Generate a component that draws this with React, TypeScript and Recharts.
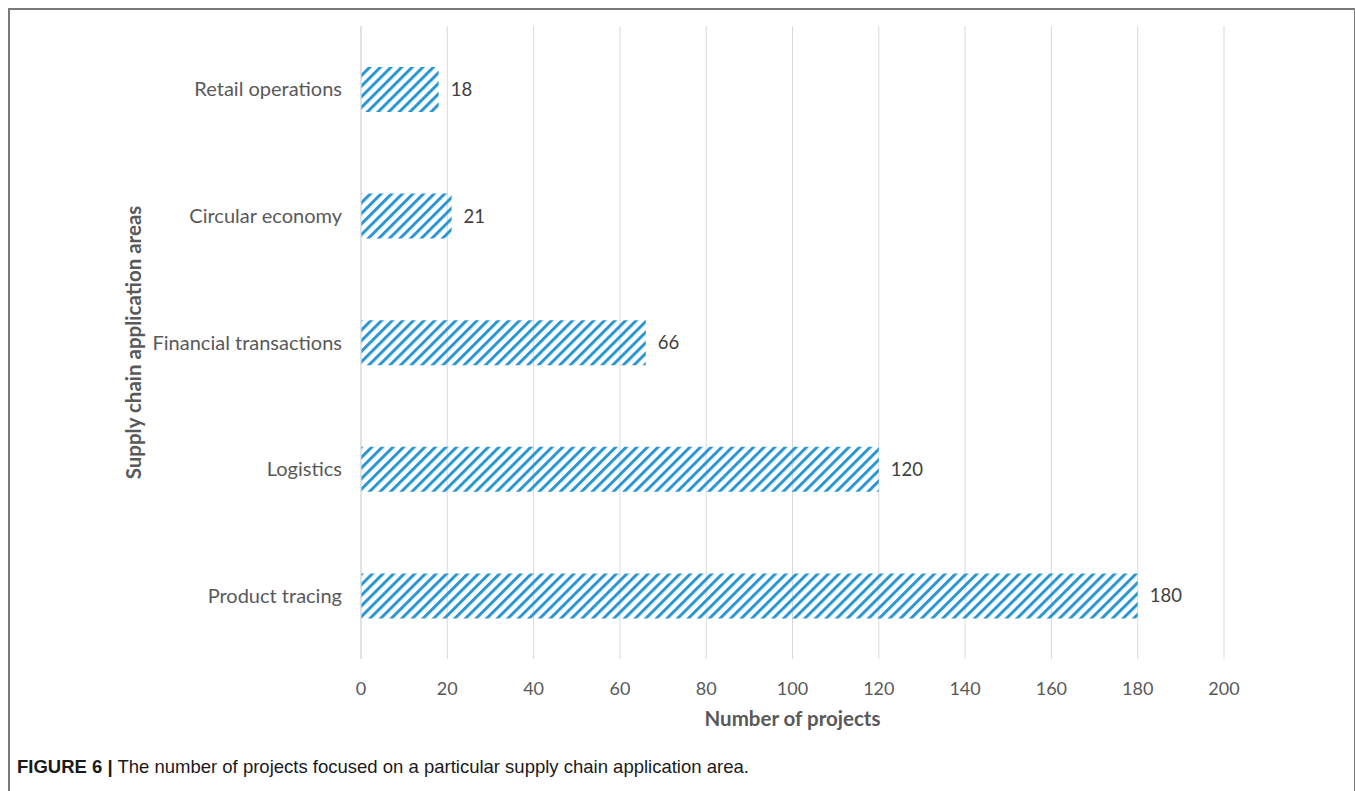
import React from 'react';
import { BarChart, Bar, XAxis, YAxis, CartesianGrid, LabelList } from 'recharts';

const categories = ['Retail operations', 'Circular economy', 'Financial transactions', 'Logistics', 'Product tracing'];
const projectCounts = [18, 21, 66, 120, 180];
const xTicks = [0, 20, 40, 60, 80, 100, 120, 140, 160, 180, 200];

const data = categories.map((name, i) => ({ name, projects: projectCounts[i] }));

const FONT = 'Lato, "Open Sans", sans-serif';
const BLUE = '#2b96d4';

export default function App() {
  return (
    <div style={{ position: 'absolute', left: 0, top: 0, width: 1355, height: 791, background: '#fff', overflow: 'hidden' }}>
      <div
        style={{
          position: 'absolute',
          left: 8,
          top: 8,
          width: 1344,
          height: 820,
          border: '2px solid #7a7a7a',
          borderBottom: 'none',
        }}
      />
      <div style={{ position: 'absolute', left: 0, top: 0 }}>
        <BarChart
          width={1355}
          height={791}
          data={data}
          layout="vertical"
          margin={{ top: 26, right: 131, bottom: 72, left: 0 }}
          barSize={45}
        >
          <defs>
            <pattern id="hatch" width="7.5" height="7.5" patternUnits="userSpaceOnUse" patternTransform="rotate(45)">
              <rect x="0" y="0" width="3" height="7.5" fill={BLUE} />
            </pattern>
          </defs>
          <CartesianGrid horizontal={false} stroke="#d9d9d9" />
          <XAxis
            type="number"
            domain={[0, 200]}
            ticks={xTicks}
            axisLine={false}
            tickLine={false}
            height={60}
            tickMargin={17}
            tick={{ fill: '#595959', fontSize: 18, fontFamily: FONT }}
            label={{
              content: ({ viewBox }: any) => (
                <text
                  x={viewBox.x + viewBox.width / 2}
                  y={726}
                  textAnchor="middle"
                  fill="#595959"
                  fontSize={20.5}
                  fontWeight="bold"
                  fontFamily={FONT}
                >
                  Number of projects
                </text>
              ),
            }}
          />
          <YAxis
            type="category"
            dataKey="name"
            width={361}
            axisLine={{ stroke: '#d9d9d9' }}
            tickLine={false}
            tickMargin={13}
            tick={{ fill: '#595959', fontSize: 20, fontFamily: FONT }}
            label={{
              content: ({ viewBox }: any) => {
                const cy = viewBox.y + viewBox.height / 2;
                return (
                  <text
                    x={133}
                    y={cy}
                    transform={`rotate(-90, 133, ${cy})`}
                    textAnchor="middle"
                    dominantBaseline="central"
                    fill="#595959"
                    fontSize={20.5}
                    fontWeight="bold"
                    fontFamily={FONT}
                  >
                    Supply chain application areas
                  </text>
                );
              },
            }}
          />
          <Bar dataKey="projects" fill="url(#hatch)" isAnimationActive={false}>
            <LabelList dataKey="projects" position="right" offset={12} fill="#404040" fontSize={18.5} fontFamily={FONT} />
          </Bar>
        </BarChart>
      </div>
      <div
        style={{
          position: 'absolute',
          left: 17,
          top: 756,
          fontFamily: '"Liberation Sans", Arial, sans-serif',
          fontSize: 18.5,
          lineHeight: '22px',
          color: '#1a1a1a',
          whiteSpace: 'nowrap',
        }}
      >
        <b>FIGURE 6 |</b> The number of projects focused on a particular supply chain application area.
      </div>
    </div>
  );
}
